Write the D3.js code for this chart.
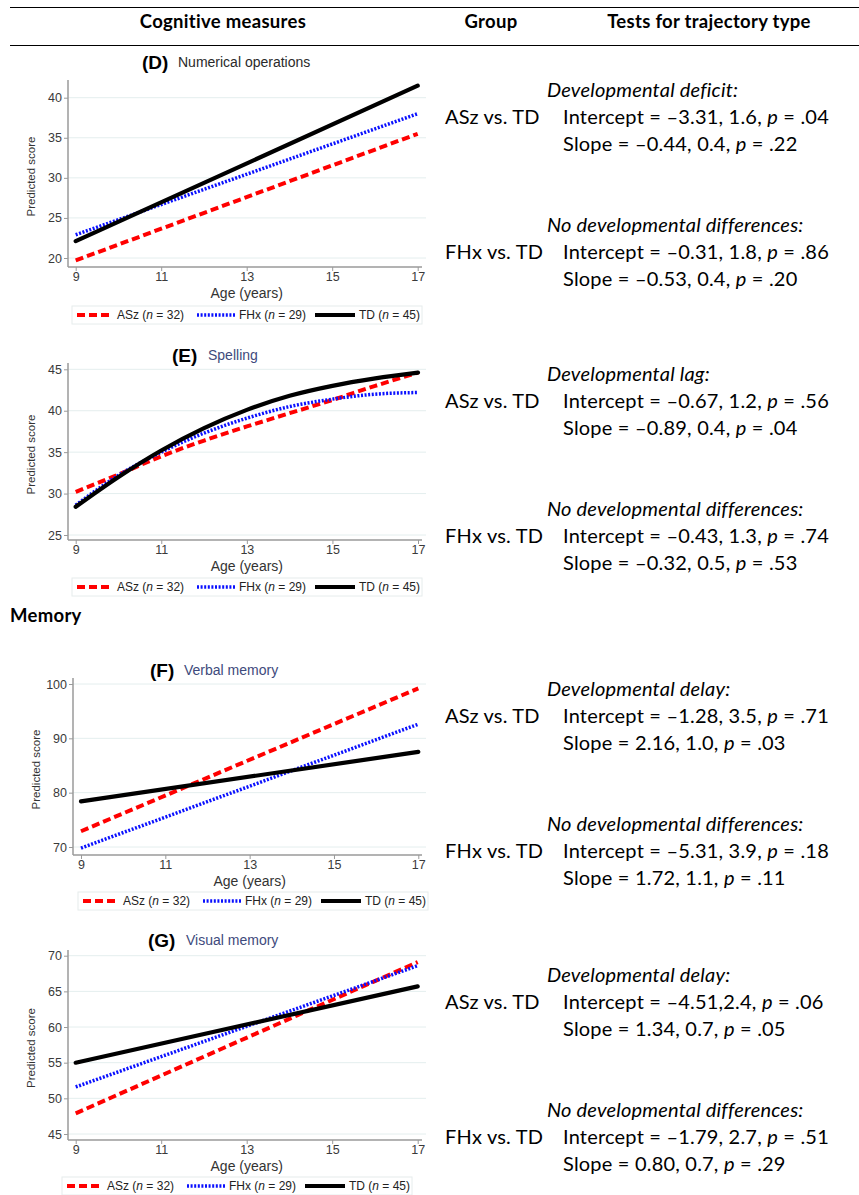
<!DOCTYPE html>
<html>
<head>
<meta charset="utf-8">
<script src="https://cdn.jsdelivr.net/npm/d3@7"></script>
<style>
  body { margin: 0; background: #fff; }
  svg { display: block; }
</style>
</head>
<body>
<svg id="chart" width="859" height="1195"></svg>
<script>
// ---- data ----
const groups = ['ASz', 'FHx', 'TD'];
const groupN = [32, 29, 45];

// linear panels: predicted score at age 9 and 17
const lineAges = [9, 17];
const numOpsASz = [19.7, 35.5];
const numOpsFHx = [22.9, 38.0];
const numOpsTD = [22.1, 41.5];

// spelling is curved
const spellAges = [9, 10, 11, 12, 13, 14, 15, 16, 17];
const spellASz = [30.2, 32.3, 34.5, 36.4, 38.1, 39.7, 41.3, 43.0, 44.6];
const spellFHx = [28.6, 32.2, 35.0, 37.3, 39.1, 40.5, 41.4, 42.0, 42.2];
const spellTD = [28.4, 32.0, 35.2, 37.9, 40.1, 41.8, 43.0, 43.9, 44.6];

const verbASz = [72.9, 99.2];
const verbFHx = [69.8, 92.6];
const verbTD = [78.4, 87.5];

const visASz = [47.9, 69.1];
const visFHx = [51.6, 68.6];
const visTD = [55.0, 65.7];

const xTicks = [9, 11, 13, 15, 17];
const numOpsTicks = [20, 25, 30, 35, 40];
const spellTicks = [25, 30, 35, 40, 45];
const verbTicks = [70, 80, 90, 100];
const visTicks = [45, 50, 55, 60, 65, 70];

// table text
const headers = ['Cognitive measures', 'Group', 'Tests for trajectory type'];
const tests = [
  ['Developmental deficit:', '–3.31, 1.6', '.04', '–0.44, 0.4', '.22',
   'No developmental differences:', '–0.31, 1.8', '.86', '–0.53, 0.4', '.20'],
  ['Developmental lag:', '–0.67, 1.2', '.56', '–0.89, 0.4', '.04',
   'No developmental differences:', '–0.43, 1.3', '.74', '–0.32, 0.5', '.53'],
  ['Developmental delay:', '–1.28, 3.5', '.71', '2.16, 1.0', '.03',
   'No developmental differences:', '–5.31, 3.9', '.18', '1.72, 1.1', '.11'],
  ['Developmental delay:', '–4.51,2.4', '.06', '1.34, 0.7', '.05',
   'No developmental differences:', '–1.79, 2.7', '.51', '0.80, 0.7', '.29']
];

const panels = [
  {letter: '(D)', name: 'Numerical operations', nameColor: '#2a2a2a', ages: lineAges,
   series: [numOpsASz, numOpsFHx, numOpsTD], ticks: numOpsTicks,
   top: 80, axisY: 267, yPx: [258, 97.7], spineX: 68, xPx: [75.7, 417.7],
   titleY: 62, letterX: 142, nameX: 178, legendY: 315, legendX: 72, textTop: 90},
  {letter: '(E)', name: 'Spelling', nameColor: '#3e4a7c', ages: spellAges,
   series: [spellASz, spellFHx, spellTD], ticks: spellTicks, curved: true,
   top: 363, axisY: 540, yPx: [535, 369.3], spineX: 68, xPx: [75.7, 418],
   titleY: 355, letterX: 172, nameX: 208, legendY: 587, legendX: 72, textTop: 374},
  {letter: '(F)', name: 'Verbal memory', nameColor: '#3e4a7c', ages: lineAges,
   series: [verbASz, verbFHx, verbTD], ticks: verbTicks,
   top: 678, axisY: 855, yPx: [847, 684], spineX: 73, xPx: [81, 418.3],
   titleY: 670, letterX: 150, nameX: 184, legendY: 901, legendX: 78, textTop: 689},
  {letter: '(G)', name: 'Visual memory', nameColor: '#3e4a7c', ages: lineAges,
   series: [visASz, visFHx, visTD], ticks: visTicks,
   top: 950, axisY: 1140, yPx: [1134, 955.7], spineX: 68, xPx: [75.7, 417.7],
   titleY: 940, letterX: 148, nameX: 186, legendY: 1186, legendX: 62, textTop: 975}
];

const styles = [
  {color: '#ff0000', width: 4, dash: '8,4'},
  {color: '#0a10ff', width: 3.5, dash: '2,1.6'},
  {color: '#000000', width: 4.2, dash: null}
];

const svg = d3.select('#chart');
const tableFont = 'Lato, "Open Sans", sans-serif';
const plotFont = '"Liberation Sans", Arial, sans-serif';

// table rules and header
svg.append('line').attr('x1', 10).attr('x2', 859).attr('y1', 7.5).attr('y2', 7.5)
  .attr('stroke', '#000').attr('stroke-width', 1);
svg.append('line').attr('x1', 10).attr('x2', 859).attr('y1', 45.5).attr('y2', 45.5)
  .attr('stroke', '#000').attr('stroke-width', 1);

const headX = [223, 491, 709];
svg.selectAll('text.head').data(headers).join('text')
  .attr('class', 'head')
  .attr('x', (d, i) => headX[i]).attr('y', 28)
  .attr('text-anchor', 'middle')
  .style('font-family', tableFont).style('font-weight', 700).style('font-size', '18.5px')
  .style('letter-spacing', '0.3px')
  .text(d => d);

svg.append('text').attr('x', 10).attr('y', 622)
  .style('font-family', tableFont).style('font-weight', 700).style('font-size', '18.5px')
  .style('letter-spacing', '0.3px')
  .text('Memory');

panels.forEach((p, pi) => {
  const x = d3.scaleLinear().domain([9, 17]).range(p.xPx);
  const y = d3.scaleLinear().domain([p.ticks[0], p.ticks[p.ticks.length - 1]]).range(p.yPx);
  const g = svg.append('g');
  const right = 426;

  // grid
  g.selectAll('line.grid').data(p.ticks).join('line')
    .attr('x1', p.spineX).attr('x2', right)
    .attr('y1', d => y(d)).attr('y2', d => y(d))
    .attr('stroke', '#e4eeee').attr('stroke-width', 1);

  // y axis
  const yAxis = g.append('g').attr('transform', `translate(${p.spineX},0)`)
    .call(d3.axisLeft(y).tickValues(p.ticks).tickSize(4).tickPadding(2));
  yAxis.select('.domain').attr('d', `M0,${p.top}V${p.axisY}`);
  // x axis
  const xAxis = g.append('g').attr('transform', `translate(0,${p.axisY})`)
    .call(d3.axisBottom(x).tickValues(xTicks).tickSize(4).tickPadding(1));
  xAxis.select('.domain').attr('d', `M${p.spineX},0H${right - 4}`);

  [yAxis, xAxis].forEach(a => {
    a.select('.domain').attr('stroke', '#9a9a9a').attr('stroke-width', 1.5);
    a.selectAll('.tick line').attr('stroke', '#9a9a9a');
    a.selectAll('.tick text').attr('fill', '#3a3a3a')
      .style('font-family', plotFont).style('font-size', '12.5px');
  });

  // lines
  const line = d3.line().x((d, i) => x(p.ages[i])).y(d => y(d));
  if (p.curved) line.curve(d3.curveMonotoneX);
  p.series.forEach((s, si) => {
    const st = styles[si];
    g.append('path').datum(s)
      .attr('d', line)
      .attr('fill', 'none')
      .attr('stroke', st.color)
      .attr('stroke-width', st.width)
      .attr('stroke-dasharray', st.dash)
      .attr('stroke-linecap', si === 2 ? 'round' : 'butt');
  });

  // axis titles
  g.append('text')
    .attr('transform', `translate(${p.spineX - 33},${(p.top + p.axisY) / 2 + 3}) rotate(-90)`)
    .attr('text-anchor', 'middle').attr('fill', '#333')
    .style('font-family', plotFont).style('font-size', '11.5px')
    .text('Predicted score');
  g.append('text')
    .attr('x', (p.xPx[0] + p.xPx[1]) / 2).attr('y', p.axisY + 31)
    .attr('text-anchor', 'middle').attr('fill', '#333')
    .style('font-family', plotFont).style('font-size', '14px')
    .text('Age (years)');

  // panel title
  g.append('text').attr('x', p.letterX).attr('y', p.titleY + 6.5)
    .style('font-family', plotFont).style('font-weight', 700).style('font-size', '19px')
    .text(p.letter);
  g.append('text').attr('x', p.nameX).attr('y', p.titleY + 4.5)
    .attr('fill', p.nameColor)
    .style('font-family', plotFont).style('font-size', '14px')
    .text(p.name);

  // legend
  const lg = g.append('g').attr('transform', `translate(${p.legendX},${p.legendY})`);
  lg.append('rect').attr('x', 0).attr('y', -9).attr('width', 350).attr('height', 18)
    .attr('fill', '#fff').attr('stroke', '#e6ecec');
  const sampleX = [5, 125, 243];
  const sampleW = [36, 38, 40];
  groups.forEach((gName, gi) => {
    const st = styles[gi];
    lg.append('line').attr('x1', sampleX[gi]).attr('x2', sampleX[gi] + sampleW[gi])
      .attr('y1', 0).attr('y2', 0)
      .attr('stroke', st.color).attr('stroke-width', st.width)
      .attr('stroke-dasharray', st.dash);
    const t = lg.append('text').attr('x', sampleX[gi] + sampleW[gi] + 4).attr('y', 4.3)
      .attr('fill', '#222')
      .style('font-family', plotFont).style('font-size', '12px');
    t.append('tspan').text(gName + ' (');
    t.append('tspan').style('font-style', 'italic').text('n');
    t.append('tspan').text(' = ' + groupN[gi] + ')');
  });

  // test text on the right
  const tr = tests[pi];
  const tg = svg.append('g').style('font-family', tableFont).style('font-size', '20px')
    .style('letter-spacing', '0.2px');
  const blocks = [[0, 'ASz vs. TD'], [5, 'FHx vs. TD']];
  blocks.forEach(([off, grp], bi) => {
    const base = p.textTop + bi * 135 + 7;
    tg.append('text').attr('x', 547).attr('y', base)
      .style('font-style', 'italic').text(tr[off]);
    tg.append('text').attr('x', 445).attr('y', base + 27).text(grp);
    const r1 = tg.append('text').attr('x', 563).attr('y', base + 27);
    r1.append('tspan').text('Intercept = ' + tr[off + 1] + ', ');
    r1.append('tspan').style('font-style', 'italic').text('p');
    r1.append('tspan').text(' = ' + tr[off + 2]);
    const r2 = tg.append('text').attr('x', 563).attr('y', base + 54);
    r2.append('tspan').text('Slope = ' + tr[off + 3] + ', ');
    r2.append('tspan').style('font-style', 'italic').text('p');
    r2.append('tspan').text(' = ' + tr[off + 4]);
  });
});
</script>
</body>
</html>
